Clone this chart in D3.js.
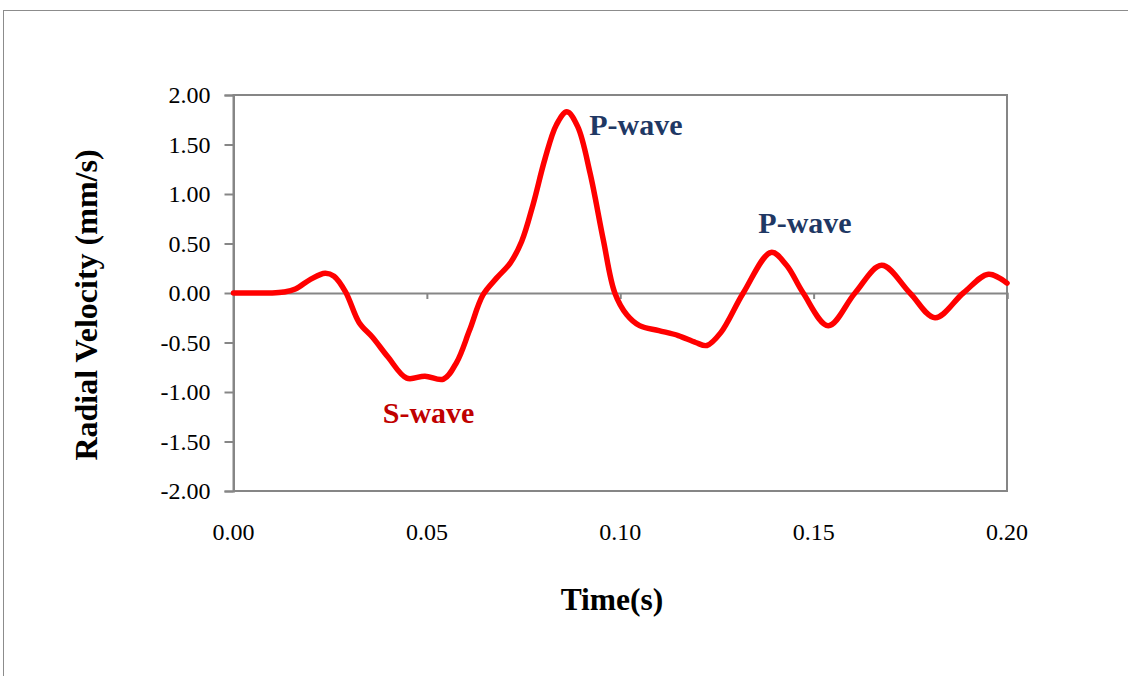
<!DOCTYPE html>
<html>
<head>
<meta charset="utf-8">
<script src="https://cdn.jsdelivr.net/npm/d3@7"></script>
<style>
  html, body { margin: 0; padding: 0; background: #fff; }
  svg { display: block; }
  text { font-family: "Liberation Serif", "Times New Roman", serif; }
</style>
</head>
<body>
<svg id="chart" width="1128" height="676"></svg>
<script>
// Data
const timeValues = [0, 0.005, 0.010, 0.013, 0.016, 0.020, 0.0237, 0.026, 0.029, 0.0325, 0.036, 0.040,
  0.0448, 0.0495, 0.0543, 0.0577, 0.061, 0.0645, 0.068, 0.0715, 0.0745, 0.0775, 0.0805, 0.0835,
  0.0862, 0.089, 0.0922, 0.0956, 0.0986, 0.1017, 0.105, 0.110, 0.115, 0.1195, 0.1224, 0.126,
  0.1318, 0.139, 0.143, 0.1473, 0.1538, 0.1607, 0.1676, 0.1749, 0.1814, 0.1887, 0.1952, 0.2];
const velocityValues = [0, 0, 0, 0.01, 0.04, 0.14, 0.20, 0.17, 0.01, -0.30, -0.45, -0.65,
  -0.86, -0.84, -0.87, -0.70, -0.38, -0.02, 0.15, 0.30, 0.52, 0.90, 1.35, 1.70,
  1.83, 1.68, 1.21, 0.54, 0.0, -0.22, -0.33, -0.38, -0.43, -0.50, -0.53, -0.40,
  0.0, 0.41, 0.28, 0.0, -0.33, 0.0, 0.28, 0.0, -0.25, 0.0, 0.19, 0.10];
const xTicks = [0, 0.05, 0.10, 0.15, 0.20];
const yTicks = [-2, -1.5, -1, -0.5, 0, 0.5, 1, 1.5, 2];
const annotations = [
  { text: "P-wave", t: 0.0920, v: 1.60, color: "#1f3864" },
  { text: "P-wave", t: 0.1357, v: 0.61, color: "#1f3864" },
  { text: "S-wave", t: 0.0386, v: -1.31, color: "#c00000" }
];
const xTitle = "Time(s)";
const yTitle = "Radial Velocity (mm/s)";

const svg = d3.select("#chart");
const axisColor = "#868686";
const fmt = d => d3.format(".2f")(d).replace("\u2212", "-");

// outer frame
svg.append("rect").attr("x", 3.5).attr("y", 10.5).attr("width", 1140).attr("height", 700)
  .attr("fill", "none").attr("stroke", "#8c8c8c").attr("stroke-width", 1);

const x = d3.scaleLinear().domain([0, 0.2]).range([233.5, 1007]);
const y = d3.scaleLinear().domain([-2, 2]).range([491, 95]);

// plot area border
svg.append("rect").attr("x", x(0)).attr("y", y(2)).attr("width", x(0.2) - x(0)).attr("height", y(-2) - y(2))
  .attr("fill", "none").attr("stroke", axisColor).attr("stroke-width", 2);

// y axis
const yAxis = d3.axisLeft(y).tickValues(yTicks).tickFormat(fmt).tickSize(9).tickPadding(14);
const gy = svg.append("g").attr("transform", `translate(${x(0)},0)`).call(yAxis);
gy.select(".domain").attr("stroke", axisColor).attr("stroke-width", 2);
gy.selectAll(".tick line").attr("stroke", axisColor).attr("stroke-width", 2);
gy.selectAll(".tick text").attr("font-size", 24).attr("fill", "#000")
  .attr("font-family", '"Liberation Serif", "Times New Roman", serif');

// x axis at zero (ticks), labels at bottom
const xAxis = d3.axisBottom(x).tickValues(xTicks).tickFormat("").tickSize(6);
const gx = svg.append("g").attr("transform", `translate(0,${y(0)})`).call(xAxis);
gx.select(".domain").attr("stroke", axisColor).attr("stroke-width", 2);
gx.selectAll(".tick line").attr("stroke", axisColor).attr("stroke-width", 2);

svg.append("g").selectAll("text").data(xTicks).join("text")
  .attr("x", d => x(d)).attr("y", 540).attr("text-anchor", "middle")
  .attr("font-size", 24).attr("fill", "#000").text(fmt);

// line
const line = d3.line().x((d, i) => x(timeValues[i])).y(d => y(d)).curve(d3.curveCatmullRom.alpha(0.5));
svg.append("path").datum(velocityValues).attr("d", line)
  .attr("fill", "none").attr("stroke", "#ff0000").attr("stroke-width", 5.5)
  .attr("stroke-linejoin", "round").attr("stroke-linecap", "round");

// annotations
svg.append("g").selectAll("text").data(annotations).join("text")
  .attr("x", d => x(d.t)).attr("y", d => y(d.v))
  .attr("font-size", 30).attr("font-weight", "bold").attr("fill", d => d.color).text(d => d.text);

// axis titles
svg.append("text").attr("x", 612).attr("y", 610).attr("text-anchor", "middle")
  .attr("font-size", 31.5).attr("font-weight", "bold").attr("fill", "#000").text(xTitle);
svg.append("text").attr("transform", "translate(97,305) rotate(-90)").attr("text-anchor", "middle")
  .attr("font-size", 32).attr("font-weight", "bold").attr("fill", "#000").text(yTitle);
</script>
</body>
</html>
